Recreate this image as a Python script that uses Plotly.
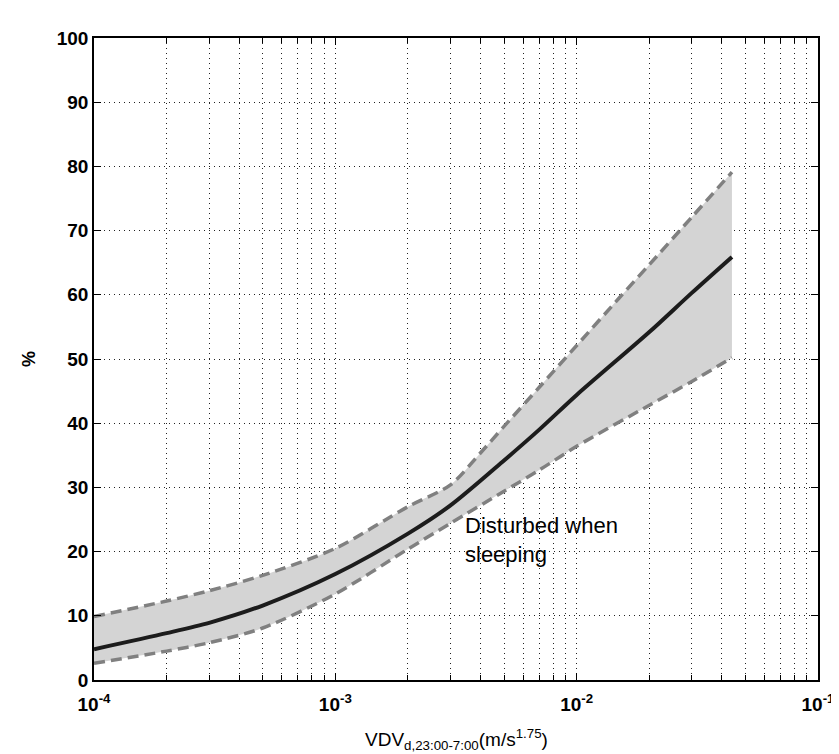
import plotly.graph_objects as go

# Data
x_mean = [1e-4, 2e-4, 3e-4, 5e-4, 1e-3, 2e-3, 3e-3, 5e-3, 7e-3, 1e-2, 2e-2, 3e-2, 0.044]
mean_pct = [4.8, 7.3, 8.9, 11.6, 16.5, 22.8, 27.2, 34.2, 39.0, 44.4, 54.2, 60.3, 65.9]

x_upper = [1e-4, 2e-4, 3e-4, 5e-4, 1e-3, 2e-3, 3e-3, 4e-3, 5e-3, 7e-3, 1e-2, 1.5e-2, 2e-2, 3e-2, 0.044]
upper_pct = [9.9, 12.3, 13.9, 16.3, 20.5, 27.0, 30.4, 35.4, 39.5, 45.6, 52.1, 59.5, 64.7, 72.1, 79.1]

x_lower = [1e-4, 2e-4, 3e-4, 5e-4, 1e-3, 2e-3, 3e-3, 5e-3, 7e-3, 1e-2, 2e-2, 3e-2, 0.044]
lower_pct = [2.6, 4.5, 5.8, 8.1, 13.4, 20.4, 24.4, 29.4, 32.7, 36.4, 42.8, 46.5, 50.2]

major_ticks = [1e-4, 1e-3, 1e-2, 1e-1]
major_text = ["10<sup>-4</sup>", "10<sup>-3</sup>", "10<sup>-2</sup>", "10<sup>-1</sup>"]
minor_ticks = [m * d for d in [1e-4, 1e-3, 1e-2] for m in range(2, 10)]
y_ticks = list(range(0, 101, 10))

FONT = "Liberation Sans, Arial, sans-serif"
grid_dash = "1px,4px"
grid_color = "#222222"

fig = go.Figure()
fig.add_trace(go.Scatter(x=x_lower, y=lower_pct, mode="lines",
                         line=dict(color="rgba(0,0,0,0)", width=0, shape="spline", smoothing=0.8),
                         showlegend=False, hoverinfo="skip"))
fig.add_trace(go.Scatter(x=x_upper, y=upper_pct, mode="lines", fill="tonexty",
                         fillcolor="rgb(212,212,212)",
                         line=dict(color="rgba(0,0,0,0)", width=0, shape="spline", smoothing=0.8),
                         showlegend=False, hoverinfo="skip"))
for xs, ys in ((x_upper, upper_pct), (x_lower, lower_pct)):
    fig.add_trace(go.Scatter(x=xs, y=ys, mode="lines",
                             line=dict(color="rgb(128,128,128)", width=3.5, dash="11px,6px",
                                       shape="spline", smoothing=0.8),
                             showlegend=False))
fig.add_trace(go.Scatter(x=x_mean, y=mean_pct, mode="lines",
                         line=dict(color="rgb(28,28,28)", width=4, shape="spline", smoothing=0.8),
                         showlegend=False))

fig.add_annotation(x=-2.472, y=26.4, xref="x", yref="y", text="Disturbed when<br>sleeping",
                   showarrow=False, xanchor="left", yanchor="top", align="left",
                   font=dict(family=FONT, size=22, color="black"))
fig.add_annotation(x=0.5, y=0, xref="paper", yref="paper", yshift=-59,
                   text="VDV<sub>d,23:00-7:00</sub>(m/s<sup>1.75</sup>)",
                   showarrow=False, xanchor="center", yanchor="middle",
                   font=dict(family=FONT, size=19, color="black"))
fig.add_annotation(x=0, y=0.5, xref="paper", yref="paper", xshift=-65,
                   text="%", textangle=-90, showarrow=False,
                   xanchor="center", yanchor="middle",
                   font=dict(family=FONT, size=18, color="black", weight="bold"))

fig.update_xaxes(type="log", range=[-4, -1], tickmode="array", tickvals=major_ticks,
                 ticktext=major_text, ticks="inside", ticklen=7, tickcolor="black",
                 showline=True, linecolor="black", linewidth=1.5, mirror="ticks",
                 showgrid=True, gridcolor=grid_color, griddash=grid_dash, gridwidth=1,
                 ticklabelstandoff=6, ticklabeloverflow="allow",
                 tickfont=dict(family=FONT, size=19, color="black", weight="bold"),
                 minor=dict(tickmode="array", tickvals=minor_ticks, ticks="inside", ticklen=5,
                            tickcolor="black", showgrid=True, gridcolor=grid_color,
                            griddash=grid_dash, gridwidth=1),
                 zeroline=False)
fig.update_yaxes(range=[0, 100], tickmode="array", tickvals=y_ticks,
                 ticks="inside", ticklen=7, tickcolor="black",
                 showline=True, linecolor="black", linewidth=1.5, mirror="ticks",
                 showgrid=True, gridcolor=grid_color, griddash=grid_dash, gridwidth=1,
                 tickfont=dict(family=FONT, size=19, color="black", weight="bold"),
                 zeroline=False)

fig.update_layout(width=839, height=754, plot_bgcolor="white", paper_bgcolor="white",
                  margin=dict(l=86, r=17, t=30, b=82), showlegend=False)

fig.write_html("out.html")
